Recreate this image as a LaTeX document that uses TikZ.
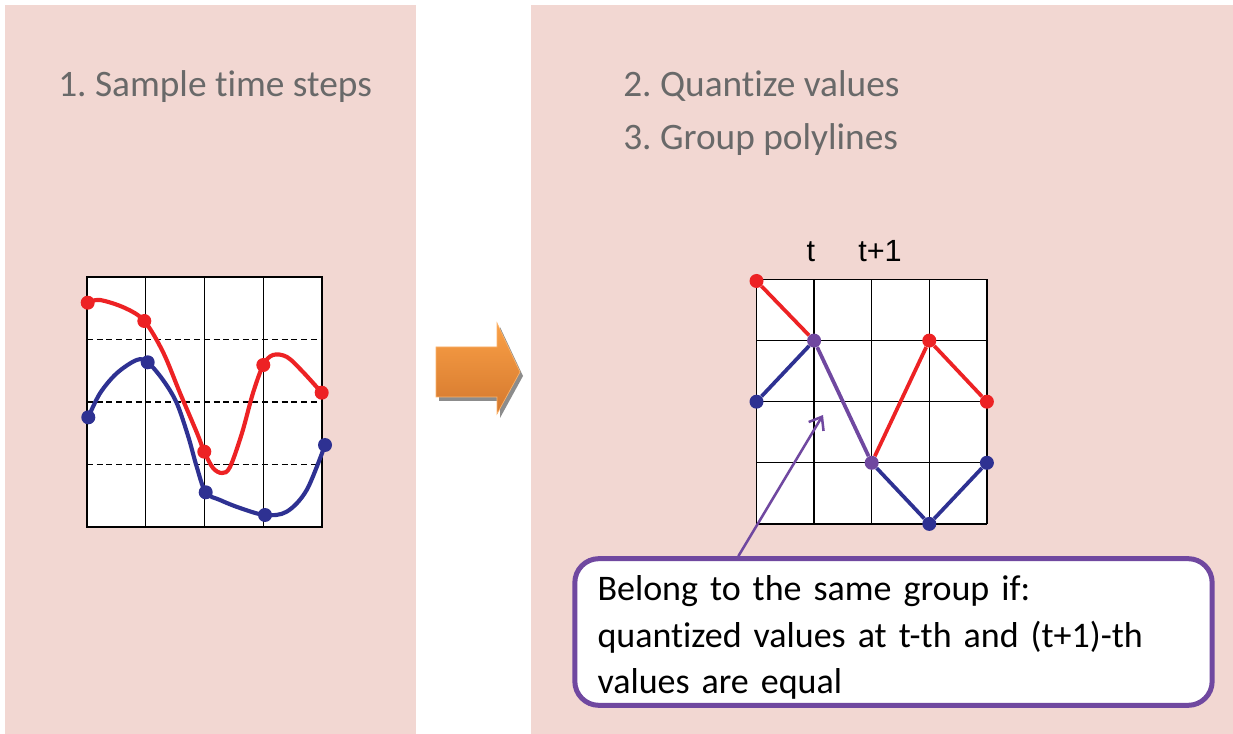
\documentclass[tikz,border=0pt]{standalone}
\usepackage{fontspec}
\setmainfont{Carlito}[Ligatures=NoCommon]
\newfontfamily\arialfont{Liberation Sans}
\usepackage{tikz}
\usetikzlibrary{arrows.meta,positioning}
\definecolor{panelpink}{RGB}{242,215,210}
\definecolor{titlegray}{RGB}{105,105,105}
\definecolor{redline}{RGB}{237,34,36}
\definecolor{blueline}{RGB}{46,49,146}
\definecolor{purpleline}{RGB}{112,72,160}
\definecolor{orangetop}{RGB}{250,160,70}
\definecolor{orangebot}{RGB}{212,120,46}

\begin{document}
\frenchspacing
\begin{tikzpicture}[x=0.75pt,y=-0.75pt,
panel/.style={fill=panelpink},
title/.style={text=titlegray,font=\fontsize{28}{34}\selectfont,anchor=base west,inner sep=0pt},
gridline/.style={line width=1pt},
quantline/.style={gridline,dash pattern=on 4.5pt off 2.8pt},
plotline/.style={line width=3.1pt,line cap=round},
poly/.style={line width=2.8pt},
rdot/.style={circle,fill=redline,inner sep=0pt,minimum size=10.5pt},
bdot/.style={circle,fill=blueline,inner sep=0pt,minimum size=10.5pt},
pdot/.style={circle,fill=purpleline,inner sep=0pt,minimum size=10.5pt},
steplabel/.style={font=\arialfont\fontsize{23}{27}\selectfont,anchor=base,inner sep=0pt},
note/.style={draw=purpleline,line width=3.75pt,fill=white,rounded corners=18pt,
  minimum width=478pt,minimum height=110pt,text width=444pt,align=left,
  font=\fontsize{27}{35}\selectfont},
pointer/.style={-{Straight Barb[length=8.5pt,width=13pt]},line width=1.9pt,draw=purpleline}]
\useasboundingbox (0,0) rectangle (1233,734);
\fill[panel] (5,5) rectangle (416,734);
\fill[panel] (531,5) rectangle (1233,734);

\node[title] (step1) at (58,96.7) {1. Sample time steps};
\node[title] (step2) at (623,96.7) {2. Quantize values};
\node[title] (step3) at (623,150) {3. Group polylines};

% sampled curves
\fill[white] (87,277) rectangle (322,527);
\foreach \y in {339.5,402,464.5}
  \draw[quantline] (87,\y) -- (322,\y);
\foreach \x in {145.75,204.5,263.25}
  \draw[gridline] (\x,277) -- (\x,527);
\draw[gridline] (87,277) rectangle (322,527);

\coordinate (r1) at (87.7,302.7);
\coordinate (r2) at (144.3,321);
\coordinate (r3) at (204.3,451.7);
\coordinate (r4) at (263.3,365);
\coordinate (r5) at (321.7,392.7);
\coordinate (b1) at (88.3,417.3);
\coordinate (b2) at (147.7,362.3);
\coordinate (b3) at (205.7,492.3);
\coordinate (b4) at (265,515);
\coordinate (b5) at (325,445);

\draw[plotline,blueline] plot[smooth,tension=0.55] coordinates {(b1) (100,393.3) (116.7,373.3)
  (136.7,360) (b2) (163,380) (176.7,403) (188.3,436.7) (196.7,466.7) (b3) (220,500) (240,508)
  (b4) (286.7,511.7) (306.7,490) (b5)};
\draw[plotline,redline] plot[smooth,tension=0.55] coordinates {(r1) (100,300) (125,308) (r2)
  (163,352) (180,393) (197,433) (r3) (213,468) (222,473) (230,467) (242,433) (253,393) (r4)
  (273,355) (287,357) (303,372) (r5)};
\foreach \p in {r1,r2,r3,r4,r5}
  \node[rdot] at (\p) {};
\foreach \p in {b1,b2,b3,b4,b5}
  \node[bdot] at (\p) {};

% step arrow
\fill[gray!90] (439,351) -- (500,351) -- (500,327) -- (523,376) -- (500,418) -- (500,401)
  -- (439,401) -- cycle;
\shade[top color=orangetop,bottom color=orangebot,draw=orangetop!80!white,line width=0.5pt]
  (436,347) -- (497,347) -- (497,323) -- (520,372) -- (497,414) -- (497,397) -- (436,397) -- cycle;

% quantized polylines
\fill[white] (756.5,279.5) rectangle (987,524);
\foreach \x in {756.5,814.1,871.7,929.3,986.9}
  \draw[gridline] (\x,279.5) -- (\x,524);
\foreach \y in {279.5,340.6,401.7,462.8,523.9}
  \draw[gridline] (756.5,\y) -- (986.9,\y);

\node[steplabel] (tnow) at (811,262) {t};
\node[steplabel] (tnext) at (880,262) {t+1};

\node[rdot] (qr0) at (756.5,281) {};
\node[pdot] (qm1) at (814.1,340.6) {};
\node[pdot] (qm2) at (871.7,462.8) {};
\node[rdot] (qr3) at (929.3,340.6) {};
\node[rdot] (qr4) at (986.9,401.7) {};
\node[bdot] (qb0) at (756.5,401.7) {};
\node[bdot] (qb3) at (929.3,523.9) {};
\node[bdot] (qb4) at (986.9,462.8) {};

\draw[poly,redline] (qr0) -- (qm1);
\draw[poly,blueline] (qb0) -- (qm1);
\draw[poly,purpleline] (qm1) -- (qm2);
\draw[poly,redline] (qm2) -- (qr3) -- (qr4);
\draw[poly,blueline] (qm2) -- (qb3) -- (qb4);

% grouping rule
\node[note] (note) at (893.5,632) {\rule{0pt}{27pt}Belong to the same group if:\\
  quantized values at t-th and (t+1)-th\\
  values are equal};
\coordinate (aim) at (823,415);
\draw[pointer] ([xshift=124.5pt]note.north west) -- (aim);
\end{tikzpicture}
\end{document}
